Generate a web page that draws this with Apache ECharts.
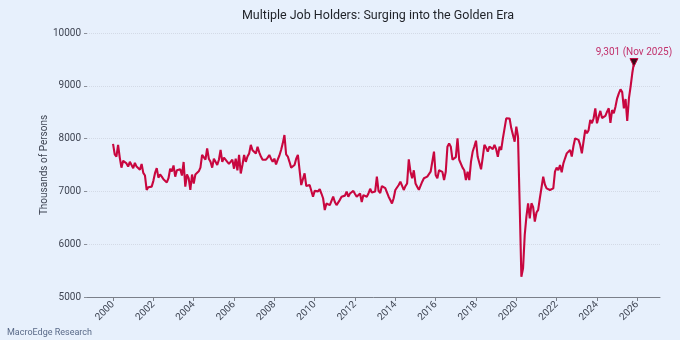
<!DOCTYPE html>
<html><head><meta charset="utf-8">
<script src="https://cdn.jsdelivr.net/npm/echarts@6/dist/echarts.min.js"></script>
<style>html,body{margin:0;padding:0;background:#e7f0fc}#c{width:680px;height:340px}</style>
</head><body><div id="c"></div>
<script>
const chartTitle = 'Multiple Job Holders: Surging into the Golden Era';
const yAxisName = 'Thousands of Persons';
const sourceNote = 'MacroEdge Research';
const lastLabel = '9,301 (Nov 2025)';
const firstYear = 2000;
const xTickYears = [2000, 2002, 2004, 2006, 2008, 2010, 2012, 2014, 2016, 2018, 2020, 2022, 2024, 2026];
const yTicks = [5000, 6000, 7000, 8000, 9000, 10000];

// Monthly values (thousands), Jan..Dec
const y2000 = [7900, 7700, 7660, 7880, 7640, 7450, 7580, 7560, 7530, 7470, 7560, 7500];
const y2001 = [7440, 7540, 7470, 7500, 7410, 7520, 7350, 7300, 7030, 7080, 7110, 7090];
const y2002 = [7200, 7350, 7440, 7260, 7320, 7280, 7230, 7200, 7170, 7250, 7430, 7380];
const y2003 = [7490, 7280, 7400, 7380, 7420, 7300, 7557, 7090, 7320, 7250, 7030, 7320];
const y2004 = [7150, 7320, 7300, 7380, 7450, 7690, 7657, 7600, 7816, 7620, 7560, 7450];
const y2005 = [7620, 7560, 7500, 7600, 7784, 7560, 7640, 7620, 7560, 7520, 7500, 7600];
const y2006 = [7430, 7620, 7400, 7690, 7340, 7500, 7690, 7560, 7660, 7720, 7880, 7780];
const y2007 = [7760, 7720, 7847, 7740, 7660, 7600, 7565, 7600, 7640, 7690, 7620, 7560];
const y2008 = [7620, 7510, 7600, 7680, 7784, 7910, 8068, 7700, 7660, 7560, 7450, 7470];
const y2009 = [7500, 7620, 7690, 7690, 7121, 7150, 7343, 7100, 7110, 7120, 7100, 6900];
const y2010 = [7010, 7010, 7000, 7045, 6960, 6870, 6648, 6770, 6740, 6740, 6760, 6900];
const y2011 = [6800, 6740, 6760, 6840, 6900, 6870, 6920, 6995, 6900, 6960, 6930, 7010];
const y2012 = [6950, 6900, 6930, 6960, 6800, 6930, 6900, 6900, 6960, 7050, 6980, 6990];
const y2013 = [7000, 7280, 7010, 6970, 7100, 7120, 7060, 7080, 6900, 6837, 6770, 6870];
const y2014 = [7027, 7050, 7121, 7184, 7150, 7027, 7100, 7150, 7608, 7373, 7247, 7400];
const y2015 = [7150, 7090, 7030, 7027, 7184, 7250, 7240, 7280, 7300, 7373, 7340, 7752];
const y2016 = [7310, 7247, 7400, 7420, 7370, 7215, 7373, 7847, 7910, 7847, 7600, 7590];
const y2017 = [7650, 8005, 7600, 7570, 7450, 7400, 7215, 7373, 7215, 7560, 7750, 7850];
const y2018 = [7960, 7655, 7640, 7418, 7640, 7880, 7830, 7752, 7850, 7880, 7800, 7880];
const y2019 = [7800, 7657, 7847, 7785, 8005, 8195, 8384, 8370, 8380, 8194, 8194, 7941];
const y2020 = [8227, 8036, 6742, 5385, 5543, 6174, 6521, 6775, 6490, 6775, 6700, 6427];
const y2021 = [6600, 6650, 6870, 6900, 7280, 7130, 7058, 7040, 7027, 7010, 7058, 7373];
const y2022 = [7450, 7400, 7500, 7360, 7530, 7627, 7720, 7690, 7784, 7660, 7860, 8005];
const y2023 = [8005, 7975, 7880, 7720, 7945, 8163, 8100, 8160, 8353, 8290, 8385, 8573];
const y2024 = [8290, 8416, 8525, 8390, 8400, 8430, 8510, 8573, 8300, 8540, 8480, 8605];
const y2025 = [8763, 8857, 8932, 8880, 8573, 8750, 8333, 8760, 8983, 9237, 9440];

const values = [].concat(y2000, y2001, y2002, y2003, y2004, y2005, y2006, y2007, y2008,
  y2009, y2010, y2011, y2012, y2013, y2014, y2015, y2016, y2017, y2018, y2019, y2020,
  y2021, y2022, y2023, y2024, y2025);
const seriesData = values.map((v, i) => [firstYear + i / 12, v]);
const last = seriesData[seriesData.length - 1];
const xSpan = last[0] - seriesData[0][0];

const LINE = '#c8073f';
const FONT = 'Roboto, "Noto Sans", sans-serif';
const chart = echarts.init(document.getElementById('c'), null, {renderer: 'canvas'});
chart.setOption({
  backgroundColor: '#e7f0fc',
  textStyle: {fontFamily: FONT},
  animation: false,
  title: {
    text: chartTitle, left: 373, top: 4, textAlign: 'center',
    textStyle: {fontSize: 12.5, fontWeight: 'normal', color: '#1f2228', fontFamily: FONT}
  },
  grid: {left: 87, right: 20, top: 33, bottom: 43},
  xAxis: {
    type: 'value',
    min: seriesData[0][0] - xSpan * 0.05,
    max: last[0] + xSpan * 0.05,
    axisLine: {show: true, lineStyle: {color: '#7b808a', width: 1}},
    axisTick: {show: true, customValues: xTickYears, length: 4, lineStyle: {color: '#7b808a'}},
    axisLabel: {customValues: xTickYears, rotate: 45, fontSize: 10, color: '#3f4553', margin: 6,
      formatter: v => String(Math.round(v))},
    splitLine: {show: false}
  },
  yAxis: {
    type: 'value', min: yTicks[0], max: yTicks[yTicks.length - 1], interval: 1000,
    name: yAxisName, nameLocation: 'middle', nameGap: 38, nameMoveOverlap: false,
    nameTextStyle: {fontSize: 10, color: '#3f4553'},
    axisLine: {show: false},
    axisTick: {show: true, length: 3, lineStyle: {color: '#8a8f99'}},
    axisLabel: {fontSize: 10, color: '#3f4553', margin: 6, formatter: v => String(v)},
    splitLine: {show: true, lineStyle: {type: 'dotted', color: '#d3dae6', width: 1}}
  },
  series: [{
    type: 'line', data: seriesData, showSymbol: false, smooth: false,
    lineStyle: {color: LINE, width: 2.1}, itemStyle: {color: LINE},
    markPoint: {
      silent: true,
      data: [{
        coord: last, symbol: 'triangle', symbolRotate: 180, symbolSize: [8, 8], symbolOffset: [0, 0],
        itemStyle: {color: '#3a0a17', borderColor: LINE, borderWidth: 1},
        label: {show: true, formatter: lastLabel, position: 'top', distance: 1,
          color: '#c2306b', fontSize: 10, fontFamily: FONT}
      }]
    }
  }],
  graphic: [{
    type: 'text', left: 7, bottom: 3,
    style: {text: sourceNote, fill: '#5a6a88', fontSize: 9, fontFamily: FONT}
  }]
});
</script></body></html>
